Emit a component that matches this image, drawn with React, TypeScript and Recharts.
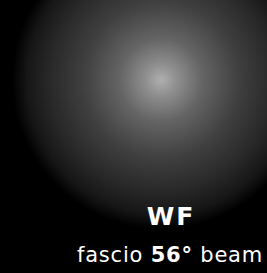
import React from 'react';
import { PieChart, Pie, Cell } from 'recharts';

const beamNames = ['WF'];
const beamAngles = [56];
const titleText = 'WF';
const labelWords = ['fascio', '56°', 'beam'];

const data = beamNames.map((name, i) => ({ name, value: beamAngles[i] }));

export default function App() {
  return (
    <div style={{ position: 'absolute', left: 0, top: 0, width: 267, height: 273, background: '#000' }}>
      <PieChart width={267} height={273} margin={{ top: 0, right: 0, bottom: 0, left: 0 }}>
        <defs>
          <radialGradient id="beamGrad" cx="50%" cy="50%" r="50%">
            <stop offset="0%" stopColor="#b0b0b0" />
            <stop offset="10%" stopColor="#909090" />
            <stop offset="28%" stopColor="#646464" />
            <stop offset="52%" stopColor="#404040" />
            <stop offset="75%" stopColor="#282828" />
            <stop offset="90%" stopColor="#161616" />
            <stop offset="100%" stopColor="#000000" />
          </radialGradient>
        </defs>
        <Pie
          data={data}
          dataKey="value"
          cx={161}
          cy={80}
          outerRadius={149}
          innerRadius={0}
          startAngle={90}
          endAngle={-270}
          stroke="none"
          isAnimationActive={false}
        >
          {data.map((d) => (
            <Cell key={d.name} fill="url(#beamGrad)" />
          ))}
        </Pie>
      </PieChart>
      <svg width={267} height={273} style={{ position: 'absolute', left: 0, top: 0 }}>
        <text x={171} y={225} textAnchor="middle" fill="#ffffff" fontFamily="'DejaVu Sans', sans-serif" fontWeight="bold" fontSize={25} letterSpacing={2}>
          {titleText}
        </text>
        <text x={170} y={262} textAnchor="middle" fill="#ffffff" fontFamily="'DejaVu Sans', sans-serif" fontSize={21} letterSpacing={0.8}>
          <tspan>{labelWords[0]} </tspan>
          <tspan fontWeight="bold">{labelWords[1]}</tspan>
          <tspan> {labelWords[2]}</tspan>
        </text>
      </svg>
    </div>
  );
}
